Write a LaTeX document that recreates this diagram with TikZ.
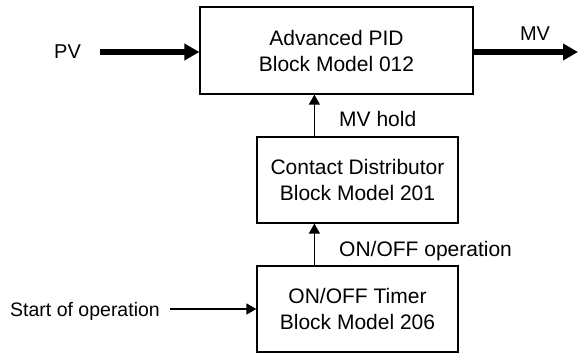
\documentclass[tikz,border=0pt]{standalone}
\usepackage{fontspec}
\setmainfont{Liberation Sans}
\usetikzlibrary{positioning, arrows.meta, calc}

\begin{document}
\begin{tikzpicture}[
    x=1pt, y=-1pt,          % ピクセル座標（y は下向き）
    % ブロックのスタイル
    blk/.style={draw, line width=1.2pt, align=center, inner sep=0pt,
                font=\fontsize{21pt}{26pt}\selectfont},
    % 細い信号線
    sig/.style={line width=1.3pt, -{Triangle[length=10pt, width=11pt]}},
    % 太い信号線
    bus/.style={line width=6pt, -{Triangle[length=15pt, width=16pt]}},
    lbl/.style={inner sep=0pt, font=\fontsize{21pt}{26pt}\selectfont}
]
    \useasboundingbox (0,0) rectangle (578,353);

    % --- 1. ブロック ---
    \node [blk, minimum width=273pt, minimum height=87pt] (pid) at (336.5, 50.5)
        {Advanced PID\\Block Model 012};
    \node [blk, minimum width=201pt, minimum height=86pt] (dist) at (357.5, 180)
        {Contact Distributor\\Block Model 201};
    \node [blk, minimum width=201pt, minimum height=86pt] (timer) at (357.5, 309)
        {ON/OFF Timer\\Block Model 206};

    % --- 2. 入出力 PV / MV ---
    \node [lbl, font=\fontsize{20pt}{24pt}\selectfont] (pv) at (67.5, 52) {PV};
    \draw [bus] ([xshift=19pt]pv.east) -- (pv.east -| pid.west);

    \coordinate (mvout) at (578, 52);
    \node [lbl, font=\fontsize{20pt}{24pt}\selectfont] (mv) at (535, 34) {MV};
    \draw [bus] (mvout -| pid.east) -- (mvout);

    % --- 3. ブロック間の信号 ---
    \draw [sig] ([xshift=58pt]timer.north west) -- ([xshift=58pt]dist.south west);
    \node [lbl, anchor=base west] (onoff) at (339, 256) {ON/OFF operation};

    \draw [sig] ([xshift=58pt]dist.north west) -- ([xshift=58pt]dist.north west |- pid.south);
    \node [lbl, anchor=base west] (hold) at (339, 126) {MV hold};

    % --- 4. 運転開始 ---
    \node [lbl, anchor=base east, font=\fontsize{19.5pt}{24pt}\selectfont] (start) at (160, 316)
        {Start of operation};
    \draw [sig] ([xshift=10pt]start.east |- timer.west) -- (timer.west);

\end{tikzpicture}
\end{document}
